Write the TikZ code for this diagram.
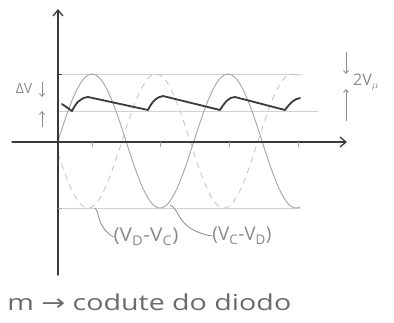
\documentclass[tikz,border=0pt]{standalone}
\usepackage{fontspec}
\setmainfont{Open Sans}
\newfontfamily\symfont{DejaVu Sans}
\usetikzlibrary{arrows.meta}
\definecolor{ink}{HTML}{3A3A3A}
\definecolor{pencil}{HTML}{A4A4A4}
\definecolor{faint}{HTML}{C8C8C8}
\definecolor{guide}{HTML}{D2D2D2}
\definecolor{txt}{HTML}{8A8A8A}
\tikzset{
  axis/.style={ink, line width=1.3pt, line cap=round},
  guideline/.style={guide, line width=0.8pt},
  sinewave/.style={pencil, line width=0.9pt},
  invwave/.style={faint, line width=0.9pt, dash pattern=on 6pt off 5pt},
  ripple/.style={ink, line width=1.8pt, line join=round, line cap=round},
  dim/.style={txt, line width=0.8pt, -{Straight Barb[length=3pt,width=5pt]}},
  lbl/.style={txt, inner sep=0pt},
  brace/.style={txt, line width=0.8pt}
}
\begin{document}
\begin{tikzpicture}[x=1pt,y=-1pt]
\useasboundingbox (0,0) rectangle (394,322);
% guide lines
\draw[guideline] (58,74) -- (302,74);
\draw[guideline] (58,208) -- (300,208);
\draw[guideline] (58,111) -- (318,111);
% sine waves
\draw[sinewave] plot[domain=58:300, samples=120, smooth] (\x, {141-67*sin(2.647*(\x-58))});
\draw[invwave] plot[domain=58:300, samples=120, smooth] (\x, {141+67*sin(2.647*(\x-54))});
% axes
\coordinate (xs) at (12,142);
\coordinate (xe) at (347,142);
\coordinate (ys) at (58,275);
\coordinate (ye) at (58,9);
\draw[axis, -{Straight Barb[length=6pt,width=10pt]}] (xs) -- (xe);
\draw[axis, -{Straight Barb[length=6pt,width=10pt]}] (ys) -- (ye);
% ticks
\foreach \t in {92,160,229,298} \draw[pencil, line width=0.8pt] (\t,142) -- (\t,147);
\draw[ink, line width=1pt] (58,74) -- (62,74);
\draw[pencil, line width=0.8pt] (58,208) -- (62,208);
% ripple voltage
\draw[ripple] (62,104) -- (72,111) .. controls (76,103) and (80,98) .. (88,97)
  -- (148,110) .. controls (152,102) and (156,97) .. (163,96)
  -- (220,110) .. controls (225,102) and (229,97) .. (235,97)
  -- (285,110) .. controls (290,103) and (294,99) .. (300,98);
% delta V annotation
\node[lbl, font=\fontsize{14}{14}\selectfont] (dv) at (24,88) {ΔV};
\coordinate (dva) at (42,82);
\coordinate (dvb) at (42,97);
\coordinate (dvc) at (42,127);
\coordinate (dvd) at (42,111);
\draw[dim] (dva) -- (dvb);
\draw[dim] (dvc) -- (dvd);
% 2V annotation
\node[lbl, font=\fontsize{16}{16}\selectfont, anchor=west] (vp) at (353,82) {2V$_\mu$};
\coordinate (vpa) at (346,52);
\coordinate (vpb) at (346,74);
\coordinate (vpc) at (346,121);
\coordinate (vpd) at (346,89);
\draw[dim] (vpa) -- (vpb);
\draw[dim] (vpc) -- (vpd);
% labels
\node[lbl, font=\fontsize{19}{19}\selectfont, xscale=1.1] (l1) at (146,237) {(V$_\mathrm{D}$-V$_\mathrm{C}$)};
\node[lbl, font=\fontsize{19}{19}\selectfont] (l2) at (242,236) {(V$_\mathrm{C}$-V$_\mathrm{D}$)};
\coordinate (b1) at (95,208);
\coordinate (b2) at (170,205);
\draw[brace] (b1) .. controls (100,212) and (96,226) .. (l1.west);
\draw[brace] (b2) .. controls (180,208) and (176,230) .. (l2.west);
% bottom caption
\node[ink!75, inner sep=0pt, font=\fontsize{22}{22}\selectfont, anchor=west, xscale=1.3] (cap) at (7,302) {m {\symfont →} codute do diodo};
\end{tikzpicture}
\end{document}
